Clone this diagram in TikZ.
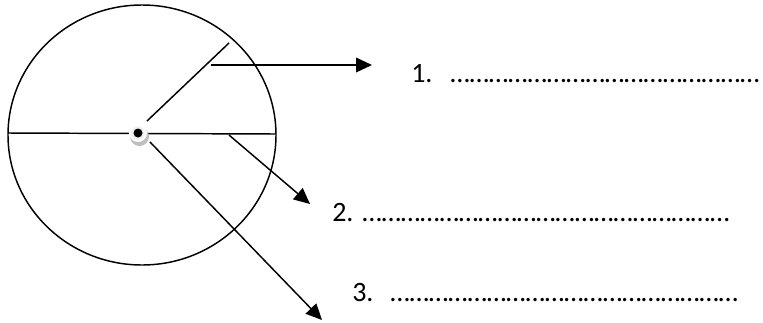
\documentclass[tikz,border=0pt]{standalone}
\usepackage{fontspec}
\setmainfont{Carlito}
\usetikzlibrary{arrows.meta}

\newcommand{\dotrun}[1]{\foreach \k in {1,...,#1}{…}}

\begin{document}
\begin{tikzpicture}[
  x=0.75pt, y=-0.75pt,
  rim/.style={line width=1.1pt},
  ptr/.style={line width=1.1pt, -{Triangle[length=12pt, width=11pt]}},
  num/.style={font=\fontsize{21}{25}\selectfont, anchor=base west, inner sep=0pt},
]
\useasboundingbox (0,0) rectangle (763,322);

% --- Wheel ---
\draw[rim] (142,135) ellipse [x radius=134, y radius=130];
\coordinate (rimL) at (8,133);
\coordinate (rimR) at (276,134);
\draw[rim] (rimL) -- (rimR);
\coordinate (hub) at (138,133);
\coordinate (spokeA) at (147,121);
\coordinate (spokeB) at (229,43);
\draw[rim] (spokeA) -- (spokeB);

% hub marker
\fill[gray!50] (hub) ++(1.5,3.5) circle [radius=9.5];
\fill[white] (hub) circle [radius=9];
\fill[gray!10] (hub) circle [radius=7];
\fill[black] (hub) circle [radius=4.5];

% --- Labels ---
\node[num] (n1) at (411,82) {1.};
\node[num] (d1) at (450,82) {\dotrun{16}};
\node[num] (n2) at (332,221) {2.};
\node[num] (d2) at (362,221) {\dotrun{19}};
\node[num] (n3) at (352,301) {3.};
\node[num] (d3) at (390,301) {\dotrun{18}};

% --- Pointers ---
\coordinate (from1) at (211,65);
\coordinate (tip1) at (372,65);
\coordinate (from2) at (229,135);
\coordinate (tip2) at (310,204);
\coordinate (from3) at (150,142);
\coordinate (tip3) at (322,320);
\draw[ptr] (from1) -- (tip1);
\draw[ptr] (from2) -- (tip2);
\draw[ptr] (from3) -- (tip3);
\end{tikzpicture}
\end{document}
